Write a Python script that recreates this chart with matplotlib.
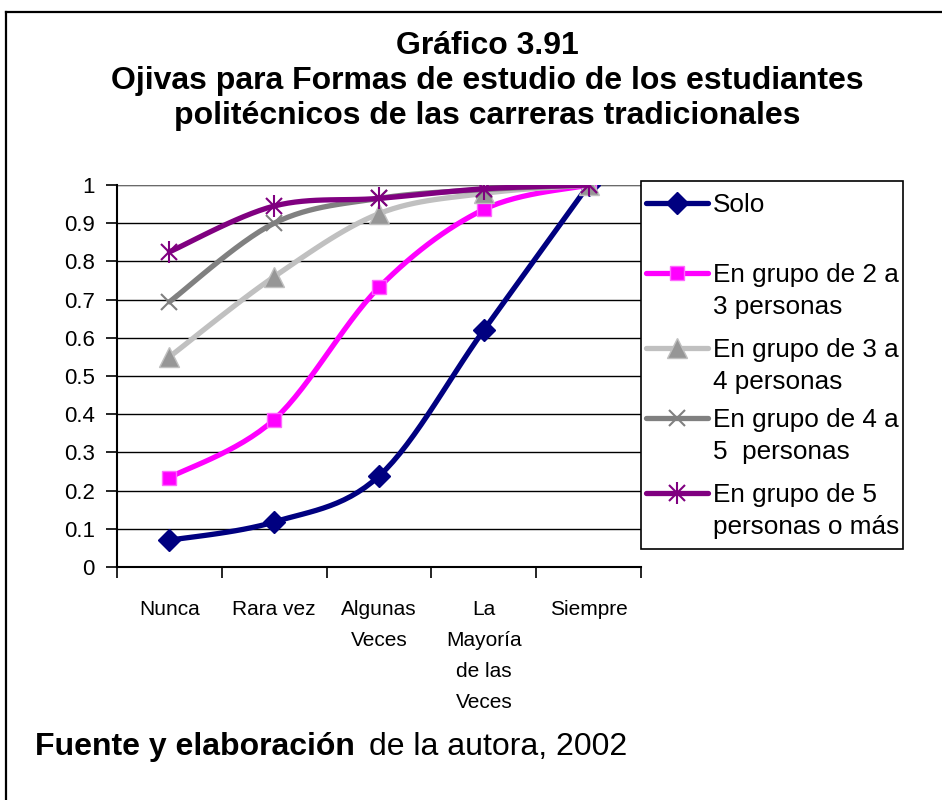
import matplotlib
matplotlib.use("Agg")
import matplotlib.pyplot as plt
import numpy as np
from matplotlib import font_manager

categories = ["Nunca", "Rara vez", "Algunas\nVeces", "La\nMayoría\nde las\nVeces", "Siempre"]

solo = [0.07, 0.118, 0.238, 0.62, 1.0]
grupo_2_3 = [0.234, 0.386, 0.732, 0.936, 1.0]
grupo_3_4 = [0.55, 0.76, 0.925, 0.978, 1.0]
grupo_4_5 = [0.694, 0.90, 0.965, 0.988, 1.0]
grupo_5_mas = [0.825, 0.945, 0.965, 0.99, 1.0]

labels = ["Solo",
          "En grupo de 2 a\n3 personas",
          "En grupo de 3 a\n4 personas",
          "En grupo de 4 a\n5  personas",
          "En grupo de 5\npersonas o más"]

title = "Gráfico 3.91\nOjivas para Formas de estudio de los estudiantes\npolitécnicos de las carreras tradicionales"

names = {f.name for f in font_manager.fontManager.ttflist}
sans = "Liberation Sans" if "Liberation Sans" in names else "DejaVu Sans"
narrow = "Liberation Sans Narrow" if "Liberation Sans Narrow" in names else sans
plt.rcParams["font.family"] = [sans, "DejaVu Sans"]


def smooth(xs, ys, n=16):
    # Catmull-Rom style bezier through the points, like a spreadsheet "smoothed line"
    p = np.column_stack([xs, ys]).astype(float)
    p = np.vstack([p[0], p, p[-1]])
    out = []
    for i in range(1, len(p) - 2):
        p0, p1, p2, p3 = p[i - 1], p[i], p[i + 1], p[i + 2]
        c1 = p1 + (p2 - p0) / 6
        c2 = p2 - (p3 - p1) / 6
        t = np.linspace(0, 1, n)[:, None]
        seg = ((1 - t) ** 3) * p1 + 3 * ((1 - t) ** 2) * t * c1 + 3 * (1 - t) * t ** 2 * c2 + t ** 3 * p2
        out.append(seg if i == 1 else seg[1:])
    out = np.vstack(out)
    return out[:, 0], out[:, 1]


# (values, line colour, marker list)
series = [
    (solo, "#000080", [dict(marker="D", ms=11, mfc="#000080", mec="#000080")]),
    (grupo_2_3, "#FF00FF", [dict(marker="s", ms=10.5, mfc="#FF00FF", mec="#FF66FF", mew=1)]),
    (grupo_3_4, "#C0C0C0", [dict(marker="^", ms=14, mfc="#969696", mec="#C0C0C0", mew=1)]),
    (grupo_4_5, "#808080", [dict(marker="x", ms=11, mec="#808080", mew=1.5)]),
    (grupo_5_mas, "#800080", [dict(marker="x", ms=12, mec="#800080", mew=1.5),
                              dict(marker="|", ms=16, mec="#800080", mew=1.5)]),
]

W, H = 942, 800
fig = plt.figure(figsize=(W / 100, H / 100), dpi=100)
ax = fig.add_axes([117 / W, 1 - 567 / H, (641 - 117) / W, (567 - 185) / H])

x = np.arange(len(categories))
for z, (vals, color, marks) in enumerate(series):
    sx, sy = smooth(x, vals)
    ax.plot(sx, sy, color=color, lw=3.8, solid_capstyle="round", zorder=3 + z)
    for m in marks:
        ax.plot(x, vals, ls="none", zorder=3 + z, **m)

ax.set_xlim(-0.5, len(categories) - 0.5)
ax.set_ylim(0, 1)
ax.set_yticks(np.arange(0, 1.01, 0.1))
ax.set_yticklabels(["0"] + [f"{v:.1f}" for v in np.arange(0.1, 0.95, 0.1)] + ["1"])
ax.yaxis.grid(True, color="black", lw=1)
ax.set_axisbelow(True)
ax.set_xticks(np.arange(-0.5, len(categories), 1.0))
ax.set_xticklabels([])
ax.set_xticks(x, minor=True)
ax.set_xticklabels(categories, minor=True, fontfamily=narrow, fontsize=15, linespacing=1.8, va="top")
ax.tick_params(axis="x", which="minor", length=0, pad=24)
ax.tick_params(axis="x", which="major", length=8, width=1.2, direction="out")
ax.tick_params(axis="y", length=8, width=1.2, direction="out", pad=8, labelsize=16)
for s in ["top", "right"]:
    ax.spines[s].set_visible(False)
for s in ["left", "bottom"]:
    ax.spines[s].set_linewidth(1.5)
ax.axhline(1, color="#808080", lw=1.2, zorder=2)

# overlay in pixel coordinates for the frame, titles and legend
ov = fig.add_axes([0, 0, 1, 1], facecolor="none")
ov.set_xlim(0, W)
ov.set_ylim(H, 0)
ov.axis("off")

ov.plot([6, W], [12, 12], color="black", lw=1.6)
ov.plot([6, 6], [12, H], color="black", lw=1.6)

ov.text(487, 81, title, ha="center", va="center", fontsize=23, fontweight="bold", linespacing=1.23)

# legend box
ov.add_patch(plt.Rectangle((641, 181), 262, 368, fill=False, ec="black", lw=1.2))
legend_y = [203, 273, 348, 418, 493]
for (vals, color, marks), label, ly in zip(series, labels, legend_y):
    ov.plot([646, 708], [ly, ly], color=color, lw=3.8, solid_capstyle="round")
    for m in marks:
        ov.plot([677], [ly], ls="none", **m)
    ov.text(713, ly - 10, label, ha="left", va="top", fontsize=18.8, linespacing=1.4)

src = ov.text(35, 762, "Fuente y elaboración", ha="left", va="bottom", fontsize=23, fontweight="bold")
ov.annotate("de la autora, 2002", xy=(1, 0), xycoords=src, xytext=(10, 0),
            textcoords="offset points", ha="left", va="bottom", fontsize=23)

fig.savefig("out.png", dpi=100)
